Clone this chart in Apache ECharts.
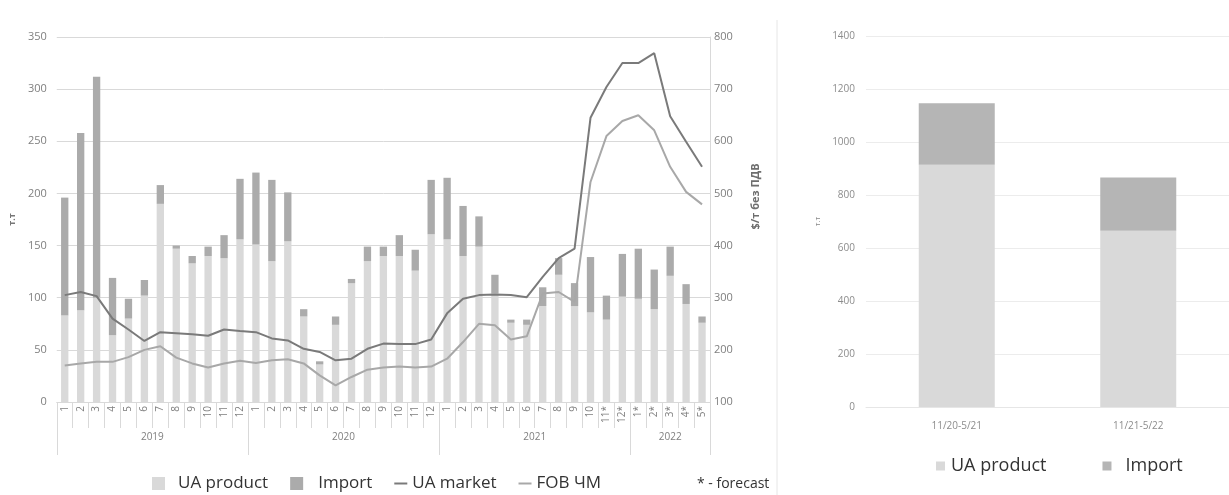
<!DOCTYPE html>
<html>
<head>
<meta charset="utf-8">
<script src="https://cdn.jsdelivr.net/npm/echarts@6/dist/echarts.min.js"></script>
<style>
html,body{margin:0;padding:0;background:#fff;}
#c{width:1229px;height:495px;}
</style>
</head>
<body>
<div id="c"></div>
<script>
// ---- data ----
const monthLabels = ['1','2','3','4','5','6','7','8','9','10','11','12',
  '1','2','3','4','5','6','7','8','9','10','11','12',
  '1','2','3','4','5','6','7','8','9','10','11*','12*',
  '1*','2*','3*','4*','5*'];
const years = ['2019','2020','2021','2022'];
const yearSpans = [12,12,12,5];
const uaProduct = [83,88,100,64,80,102,190,147,133,140,138,156,
  151,135,154,82,36,74,114,135,140,140,126,161,
  156,140,149,104,76,74,92,122,92,86,79,101,
  99,89,121,94,76];
const importVals = [113,170,212,55,19,15,18,3,7,9,22,58,
  69,78,47,7,3,8,4,14,9,20,20,52,
  59,48,29,18,3,5,18,16,22,53,23,41,
  48,38,28,19,6];
const uaMarket = [305,311,303,260,239,217,234,232,230,227,239,236,
  234,222,218,202,196,180,183,202,212,211,211,220,
  270,298,305,306,305,301,340,376,394,645,704,750,
  750,769,648,599,551];
const fobBlackSea = [170,174,177,177,186,200,207,185,174,166,174,179,
  175,180,182,174,151,132,148,162,166,168,166,168,
  183,215,250,247,220,226,308,311,292,522,610,639,
  650,621,551,503,479];
const periods = ['11/20-5/21','11/21-5/22'];
const periodUa = [914,665];
const periodImport = [232,201];
const leftTicks = {min:0,max:350,step:50};
const rightTicks = {min:100,max:800,step:100};
const periodTicks = {min:0,max:1400,step:200};

// ---- year axis helpers (half-month resolution) ----
const halfCount = yearSpans.reduce((a,b)=>a+b,0)*2 + 1;
const yearAxisData = new Array(halfCount).fill('');
const yearLabelIdx = [], yearTickIdx = [0];
let acc = 0;
yearSpans.forEach((s,i)=>{
  const mid = acc*2 + s;
  yearAxisData[mid] = years[i];
  yearLabelIdx.push(mid);
  acc += s;
  yearTickIdx.push(acc*2);
});

const light = '#d9d9d9', dark = '#ababab';
const grey = '#7f7f7f';
const font = 'Open Sans';
const lineIcon = 'path://M0,0 L13,0 L13,2 L0,2 Z';

const chart = echarts.init(document.getElementById('c'), null, {renderer:'canvas'});
chart.setOption({
  animation:false,
  backgroundColor:'#fff',
  textStyle:{fontFamily:font},
  grid:[
    {left:54, top:37, width:656, height:365},
    {left:866, top:36, width:382, height:371}
  ],
  legend:[
    {left:147, top:470, itemWidth:13, itemHeight:13, itemGap:22,
     textStyle:{fontSize:17, color:'#333', fontFamily:font},
     data:[
       {name:'UA product', icon:'rect', textStyle:{padding:[0,0,0,8]}},
       {name:'Import', icon:'rect', textStyle:{padding:[0,0,0,10]}},
       {name:'UA market', icon:lineIcon},
       {name:'FOB ЧМ', icon:lineIcon}
     ]},
    {left:931, top:452, itemWidth:9, itemHeight:9, itemGap:56,
     textStyle:{fontSize:18, color:'#333', fontFamily:font},
     data:[{name:'UA product ', icon:'rect', textStyle:{padding:[0,0,0,1]}},
           {name:'Import ', icon:'rect', textStyle:{padding:[0,0,0,9]}}],
     formatter:(n)=>n.trim()}
  ],
  xAxis:[
    {type:'category', gridIndex:0, data:monthLabels, boundaryGap:true,
     axisLine:{show:true, lineStyle:{color:light}},
     axisTick:{show:true, interval:0, length:26, lineStyle:{color:light}},
     axisLabel:{interval:0, rotate:90, margin:4, fontSize:10, color:grey}},
    {type:'category', gridIndex:0, data:yearAxisData, boundaryGap:false, position:'bottom',
     axisLine:{show:false},
     axisTick:{show:true, length:53, interval:(i)=>yearTickIdx.includes(i), lineStyle:{color:light}},
     axisLabel:{interval:(i)=>yearLabelIdx.includes(i), margin:30, fontSize:10, color:grey}},
    {type:'category', gridIndex:1, data:periods,
     axisLine:{show:true, lineStyle:{color:'#e6e6e6'}},
     axisTick:{show:false},
     axisLabel:{margin:14, fontSize:10, color:'#8c8c8c'}}
  ],
  yAxis:[
    {type:'value', gridIndex:0, min:leftTicks.min, max:leftTicks.max, interval:leftTicks.step,
     name:'т.т', nameLocation:'middle', nameGap:36, nameRotate:90,
     nameTextStyle:{fontSize:9, fontWeight:'bold', color:'#777'},
     axisLine:{show:false}, axisTick:{show:false},
     axisLabel:{fontSize:11, color:grey, margin:10},
     splitLine:{lineStyle:{color:light}}},
    {type:'value', gridIndex:0, position:'right', min:rightTicks.min, max:rightTicks.max, interval:rightTicks.step,
     name:'$/т без ПДВ', nameLocation:'middle', nameGap:40, nameRotate:90,
     nameTextStyle:{fontSize:11, fontWeight:'bold', color:'#6e6e6e', padding:[0,0,0,46]},
     axisLine:{show:true, lineStyle:{color:light}}, axisTick:{show:false},
     axisLabel:{fontSize:11, color:grey, margin:4},
     splitLine:{show:false}},
    {type:'value', gridIndex:1, min:periodTicks.min, max:periodTicks.max, interval:periodTicks.step,
     name:'т.т', nameLocation:'middle', nameGap:44, nameRotate:90,
     nameTextStyle:{fontSize:8, color:'#888'},
     axisLine:{show:false}, axisTick:{show:false},
     axisLabel:{fontSize:10, color:'#8c8c8c', margin:11, formatter:(v)=>String(v)},
     splitLine:{lineStyle:{color:'#ececec'}}}
  ],
  series:[
    {name:'UA product', type:'bar', stack:'m', xAxisIndex:0, yAxisIndex:0, barWidth:'46%',
     itemStyle:{color:light}, data:uaProduct},
    {name:'Import', type:'bar', stack:'m', xAxisIndex:0, yAxisIndex:0, barWidth:'46%',
     itemStyle:{color:dark}, data:importVals},
    {name:'UA market', type:'line', xAxisIndex:0, yAxisIndex:1, symbol:'none',
     lineStyle:{color:'#7a7a7a', width:2}, itemStyle:{color:'#7a7a7a'}, data:uaMarket},
    {name:'FOB ЧМ', type:'line', xAxisIndex:0, yAxisIndex:1, symbol:'none',
     lineStyle:{color:'#a8a8a8', width:2}, itemStyle:{color:'#a8a8a8'}, data:fobBlackSea},
    {name:'UA product ', type:'bar', stack:'p', xAxisIndex:2, yAxisIndex:2, barWidth:76,
     itemStyle:{color:light}, data:periodUa},
    {name:'Import ', type:'bar', stack:'p', xAxisIndex:2, yAxisIndex:2, barWidth:76,
     itemStyle:{color:'#b5b5b5'}, data:periodImport}
  ],
  graphic:[
    {type:'text', left:697, top:477, style:{text:'* - forecast', fontSize:14, fill:'#333', fontFamily:font}},
    {type:'line', shape:{x1:777, y1:20, x2:777, y2:495}, style:{stroke:'#e6e6e6', lineWidth:1}}
  ]
});
</script>
</body>
</html>
